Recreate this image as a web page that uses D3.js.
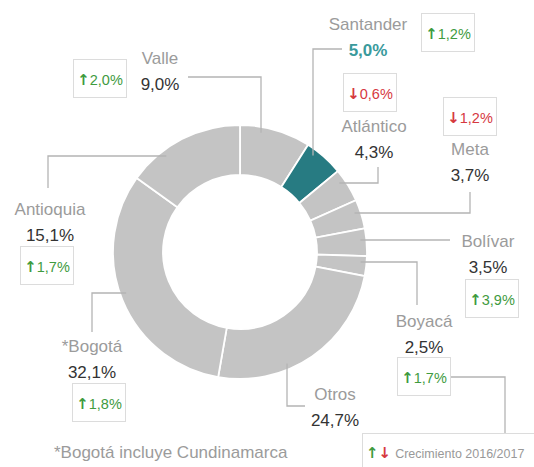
<!DOCTYPE html>
<html>
<head>
<meta charset="utf-8">
<script src="https://cdn.jsdelivr.net/npm/d3@7"></script>
<style>
  body { margin: 0; background: #fff; }
  svg { display: block; font-family: "Liberation Sans", Arial, sans-serif; }
  .arrow { font-family: "DejaVu Sans", sans-serif; font-weight: bold; }
</style>
</head>
<body>
<svg id="chart" width="534" height="467"></svg>
<script>
// data, clockwise from 12 o'clock
const regions = ['Valle', 'Santander', 'Atlántico', 'Meta', 'Bolívar', 'Boyacá', 'Otros', '*Bogotá', 'Antioquia'];
const shares = [9.0, 5.0, 4.3, 3.7, 3.5, 2.5, 24.7, 32.1, 15.1];
const growth = [2.0, 1.2, -0.6, -1.2, 3.9, 1.7, null, 1.8, 1.7];
const highlight = 'Santander';
const footnote = '*Bogotá incluye Cundinamarca';
const legendText = 'Crecimiento 2016/2017';

const W = 534, H = 467;
const cx = 240, cy = 252, rOuter = 127, rInner = 77;

const GREY = '#c4c4c4', TEAL = '#277b82', LINE = '#b4b4b4';
const UP = '#3f9b3f', DOWN = '#d6393f';

// label layout: name/value centre + baselines, growth box, leader path (towards ring)
const layout = {
  'Valle':     { x: 160, y: 64,  box: [73, 59],   lead: [[188, 77], [261, 77]],   dir: 'v' },
  'Santander': { x: 368, y: 30,  box: [421, 13],  lead: [[342, 49], [313, 49]],   dir: 'v' },
  'Atlántico': { x: 374, y: 132, box: [343, 73],  lead: [[378, 167], [378, 183]], dir: 'h' },
  'Meta':      { x: 470, y: 155, box: [443, 97],  lead: [[470, 192], [470, 213]], dir: 'h' },
  'Bolívar':   { x: 488, y: 247, box: [465, 279], lead: [[450, 240]],             dir: 'h' },
  'Boyacá':    { x: 424, y: 327, box: [397, 357], lead: [[417, 305], [417, 262]], dir: 'h' },
  'Otros':     { x: 335, y: 400, box: null,       lead: [[305, 406], [287, 406]], dir: 'v' },
  '*Bogotá':   { x: 92,  y: 352, box: [72, 383],  lead: [[92, 332], [92, 293]],   dir: 'h' },
  'Antioquia': { x: 50,  y: 215, box: [20, 246],  lead: [[48, 188], [48, 156]],   dir: 'h' }
};
const boxW = 53, boxH = 38;

const svg = d3.select('#chart');

const pie = d3.pie().sort(null).value(d => d).startAngle(0).endAngle(2 * Math.PI);
const arc = d3.arc().innerRadius(rInner).outerRadius(rOuter);
const arcs = pie(shares);

const g = svg.append('g').attr('transform', `translate(${cx},${cy})`);

// leader lines first so the ring sits on top
const rHit = rOuter - 6;
const fmt = v => d3.format('.1f')(Math.abs(v)).replace('.', ',') + '%';

regions.forEach((name, i) => {
  const L = layout[name];
  const pts = L.lead.map(p => p.slice());
  const last = pts[pts.length - 1];
  let end;
  if (L.dir === 'v') {
    const dy = Math.sqrt(rHit * rHit - (last[0] - cx) ** 2);
    end = [last[0], last[1] < cy ? cy - dy : cy + dy];
  } else {
    const dx = Math.sqrt(rHit * rHit - (last[1] - cy) ** 2);
    end = [last[0] < cx ? cx - dx : cx + dx, last[1]];
  }
  pts.push(end);
  svg.append('path')
    .attr('d', d3.line()(pts))
    .attr('fill', 'none')
    .attr('stroke', LINE)
    .attr('stroke-width', 1.3);
});

// link from Boyacá box down to the legend
svg.append('path')
  .attr('d', d3.line()([[451, 377], [505, 377], [505, 433]]))
  .attr('fill', 'none').attr('stroke', LINE).attr('stroke-width', 1.3);

g.selectAll('path.slice')
  .data(arcs)
  .join('path')
  .attr('class', 'slice')
  .attr('d', arc)
  .attr('fill', (d, i) => regions[i] === highlight ? TEAL : GREY)
  .attr('stroke', '#fff')
  .attr('stroke-width', 1.8);

// labels
regions.forEach((name, i) => {
  const L = layout[name];
  const hi = name === highlight;
  svg.append('text')
    .attr('x', L.x).attr('y', L.y)
    .attr('text-anchor', 'middle')
    .attr('font-size', 17)
    .attr('fill', '#9b9b9b')
    .text(name);
  svg.append('text')
    .attr('x', L.x).attr('y', L.y + 26)
    .attr('text-anchor', 'middle')
    .attr('font-size', 17)
    .attr('font-weight', hi ? 'bold' : 'normal')
    .attr('fill', hi ? '#3a9a9c' : '#333')
    .text(fmt(shares[i]));

  if (L.box && growth[i] != null) {
    const [bx, by] = L.box;
    const up = growth[i] >= 0;
    svg.append('rect')
      .attr('x', bx + 0.5).attr('y', by + 0.5)
      .attr('width', boxW).attr('height', boxH)
      .attr('fill', '#fff')
      .attr('stroke', '#dcdcdc');
    const t = svg.append('text')
      .attr('x', bx + boxW / 2 + 0.5).attr('y', by + 26)
      .attr('text-anchor', 'middle')
      .attr('font-size', 14.5)
      .attr('fill', up ? UP : DOWN);
    t.append('tspan').attr('class', 'arrow').attr('font-size', 15).text(up ? '↑' : '↓');
    t.append('tspan').text(fmt(growth[i]));
  }
});

// footnote
svg.append('text')
  .attr('x', 54).attr('y', 458)
  .attr('font-size', 17)
  .attr('fill', '#9b9b9b')
  .text(footnote);

// legend box
svg.append('rect')
  .attr('x', 362.5).attr('y', 433.5)
  .attr('width', 190).attr('height', 50)
  .attr('fill', '#fff')
  .attr('stroke', '#dcdcdc');
const leg = svg.append('text').attr('x', 366).attr('y', 458).attr('font-size', 12.5);
leg.append('tspan').attr('class', 'arrow').attr('fill', UP).attr('font-size', 15).text('↑');
leg.append('tspan').attr('class', 'arrow').attr('fill', DOWN).attr('font-size', 15).text('↓');
leg.append('tspan').attr('dx', 4).attr('font-weight', 'normal').attr('fill', '#999').text(legendText);
</script>
</body>
</html>
